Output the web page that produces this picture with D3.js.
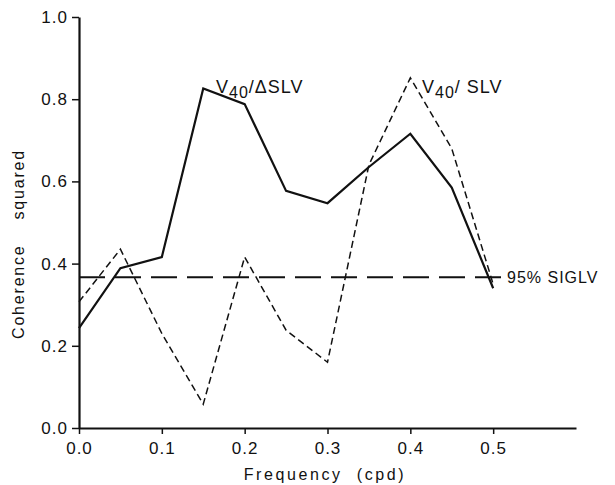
<!DOCTYPE html>
<html>
<head>
<meta charset="utf-8">
<script src="https://cdn.jsdelivr.net/npm/d3@7"></script>
<style>
  body { margin: 0; background: #fff; }
  text { font-family: "Liberation Sans", Arial, sans-serif; fill: #111; }
</style>
</head>
<body>
<svg id="chart" width="615" height="485"></svg>
<script>
// coherence squared vs frequency
const frequency = [0.0, 0.05, 0.1, 0.15, 0.2, 0.25, 0.3, 0.35, 0.4, 0.45, 0.5];
const cohDeltaSLV = [0.243, 0.389, 0.416, 0.826, 0.788, 0.577, 0.547, 0.635, 0.716, 0.585, 0.34];
const cohSLV = [0.307, 0.435, 0.23, 0.058, 0.416, 0.238, 0.16, 0.64, 0.852, 0.68, 0.35];
const sigLevel = 0.367;
const xTicks = [0.0, 0.1, 0.2, 0.3, 0.4, 0.5];
const yTicks = [0.0, 0.2, 0.4, 0.6, 0.8, 1.0];

const svg = d3.select("#chart");

const x = d3.scaleLinear().domain([0, 0.6]).range([79, 576]);
const y = d3.scaleLinear().domain([0, 1]).range([428, 17]);

// axes
const xAxis = svg.append("g")
  .attr("transform", `translate(0,${y(0)})`)
  .call(d3.axisBottom(x).tickValues(xTicks).tickFormat(d3.format(".1f")).tickSize(6).tickSizeOuter(0).tickPadding(8));
xAxis.select(".domain").attr("stroke", "#111").attr("stroke-width", 2.2);
xAxis.selectAll(".tick line").attr("stroke", "#111").attr("stroke-width", 1.5);
xAxis.selectAll(".tick text")
  .style("font-family", "Liberation Sans, Arial, sans-serif")
  .style("font-size", "17px").style("letter-spacing", "1px").attr("fill", "#111");

const yAxis = svg.append("g")
  .attr("transform", `translate(${x(0)},0)`)
  .call(d3.axisLeft(y).tickValues(yTicks).tickFormat(d3.format(".1f")).tickSize(7).tickSizeOuter(0).tickPadding(4));
yAxis.select(".domain").attr("stroke", "#111").attr("stroke-width", 2.2);
yAxis.selectAll(".tick line").attr("stroke", "#111").attr("stroke-width", 1.5);
yAxis.selectAll(".tick text")
  .style("font-family", "Liberation Sans, Arial, sans-serif")
  .style("font-size", "17px").style("letter-spacing", "1px").attr("fill", "#111");

// axis titles
svg.append("text")
  .attr("x", 325).attr("y", 480)
  .attr("text-anchor", "middle")
  .style("font-size", "16px")
  .style("letter-spacing", "2.6px")
  .attr("xml:space", "preserve")
  .text("Frequency  (cpd)");

svg.append("text")
  .attr("transform", `translate(24,244) rotate(-90)`)
  .attr("text-anchor", "middle")
  .style("font-size", "16px")
  .style("letter-spacing", "1.8px")
  .attr("xml:space", "preserve")
  .text("Coherence    squared");

// significance level
svg.append("line")
  .attr("x1", x(0)).attr("x2", 507)
  .attr("y1", y(sigLevel)).attr("y2", y(sigLevel))
  .attr("stroke", "#111").attr("stroke-width", 2)
  .attr("stroke-dasharray", "26,10");

svg.append("text")
  .attr("x", 507).attr("y", y(sigLevel) + 6)
  .style("font-size", "16px")
  .style("letter-spacing", "1px")
  .text("95% SIGLV");

const line = d3.line()
  .x((d, i) => x(frequency[i]))
  .y((d) => y(d));

svg.append("path")
  .datum(cohSLV)
  .attr("d", line)
  .attr("fill", "none")
  .attr("stroke", "#111")
  .attr("stroke-width", 1.5)
  .attr("stroke-dasharray", "7,4");

svg.append("path")
  .datum(cohDeltaSLV)
  .attr("d", line)
  .attr("fill", "none")
  .attr("stroke", "#111")
  .attr("stroke-width", 2.2)
  .attr("stroke-linejoin", "miter");

// series labels
function seriesLabel(xp, yp, rest) {
  const t = svg.append("text")
    .attr("x", xp).attr("y", yp)
    .style("font-size", "18px")
    .style("letter-spacing", "1px");
  t.append("tspan").text("V");
  t.append("tspan").attr("dy", 5).style("font-size", "16px").text("40");
  t.append("tspan").attr("dy", -5).text(rest);
}
seriesLabel(216, 93, "/\u0394SLV");
seriesLabel(422, 93, "/ SLV");
</script>
</body>
</html>
